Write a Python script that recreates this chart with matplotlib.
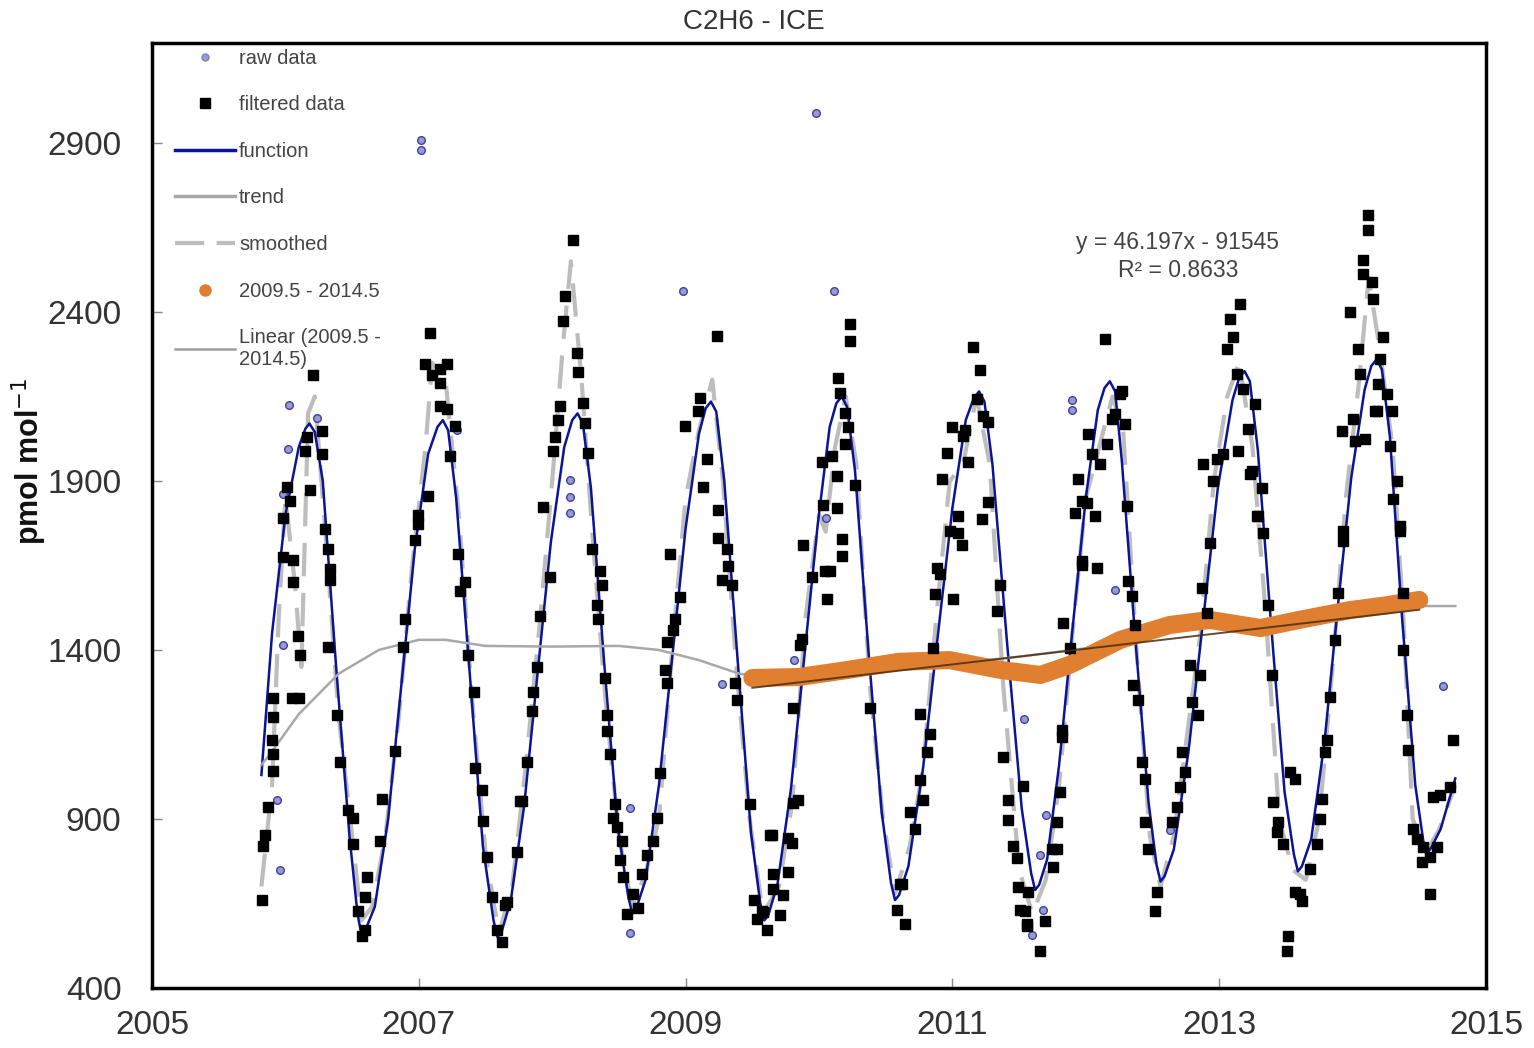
import numpy as np
import matplotlib
matplotlib.use("Agg")
import matplotlib.pyplot as plt
from matplotlib.lines import Line2D

plt.rcParams['font.family'] = ['Liberation Sans', 'DejaVu Sans']

# filtered data (black squares)
filt_x = [2005.822, 2005.835, 2005.847, 2005.872, 2005.910, 2005.910, 2005.897, 2005.91, 2005.91,
          2005.985, 2006.01, 2006.035, 2005.985, 2006.06, 2006.06, 2006.097, 2006.11, 2006.05, 2006.10,
          2006.147, 2006.16, 2006.185, 2006.21, 2006.272, 2006.272, 2006.297, 2006.322, 2006.335, 2006.335,
          2006.322, 2006.385, 2006.41, 2006.472, 2006.51, 2006.51, 2006.547, 2006.572, 2006.597, 2006.61,
          2006.597, 2006.71, 2006.722, 2006.822, 2006.884, 2006.897, 2006.972, 2006.997, 2007.072, 2006.997,
          2007.085, 2007.047, 2007.097, 2007.16, 2007.21, 2007.16, 2007.16, 2007.21, 2007.27, 2007.235,
          2007.297, 2007.347, 2007.31, 2007.372, 2007.41, 2007.422, 2007.472, 2007.484, 2007.51, 2007.546,
          2007.584, 2007.621, 2007.646, 2007.759, 2007.734,
          2007.659, 2007.771, 2007.809, 2007.846, 2007.859, 2007.884, 2007.909, 2007.984, 2007.934, 2008.009,
          2008.021, 2008.046, 2008.059, 2008.084, 2008.096, 2008.159, 2008.184, 2008.196, 2008.234, 2008.246,
          2008.271, 2008.296, 2008.359, 2008.371, 2008.334, 2008.346, 2008.396, 2008.409, 2008.409, 2008.434,
          2008.471, 2008.459, 2008.484, 2008.521, 2008.509, 2008.534, 2008.559, 2008.609, 2008.646, 2008.671,
          2008.709, 2008.759, 2008.784, 2008.809, 2008.859, 2008.846, 2008.859, 2008.909, 2008.921, 2008.959,
          2008.884, 2008.996, 2009.108, 2009.096, 2009.159, 2009.134, 2009.233, 2009.246, 2009.246, 2009.309,
          2009.321, 2009.271, 2009.346, 2009.371, 2009.384, 2009.483, 2009.509, 2009.571, 2009.608, 2009.533,
          2009.646, 2009.658,
          2009.583, 2009.658, 2009.708, 2009.733, 2009.770, 2009.770, 2009.633, 2009.795, 2009.808, 2009.845,
          2009.808, 2009.858, 2009.870, 2009.883, 2009.945, 2010.020, 2010.033, 2010.045, 2010.083, 2010.058,
          2010.095, 2010.133, 2010.133, 2010.170, 2010.170, 2010.145, 2010.158, 2010.195, 2010.220, 2010.195,
          2010.233, 2010.233, 2010.270, 2010.383, 2010.608, 2010.583, 2010.645, 2010.620, 2010.683, 2010.720,
          2010.758, 2010.783, 2010.808, 2010.833, 2010.758, 2010.858, 2010.870, 2010.883, 2010.908, 2010.920,
          2010.958, 2010.995, 2011.008, 2010.983, 2011.045, 2011.070, 2011.045, 2011.083, 2011.120, 2011.095,
          2011.157, 2011.208, 2011.182, 2011.232, 2011.270, 2011.220, 2011.270, 2011.357, 2011.333, 2011.382,
          2011.420, 2011.420, 2011.457, 2011.482, 2011.495, 2011.508, 2011.558, 2011.533, 2011.570,
          2011.544, 2011.557, 2011.657, 2011.694, 2011.757, 2011.744, 2011.782, 2011.782, 2011.807, 2011.819,
          2011.819, 2011.882, 2011.832, 2011.969, 2011.969, 2012.082, 2011.919, 2011.969, 2011.944, 2012.007,
          2012.069, 2012.107, 2012.044, 2012.019, 2012.157, 2012.144, 2012.219, 2012.194, 2012.257, 2012.269,
          2012.294, 2012.307, 2012.319, 2012.344, 2012.369, 2012.357, 2012.394, 2012.419, 2012.444, 2012.444,
          2012.469, 2012.532, 2012.519, 2012.644, 2012.682, 2012.707, 2012.744, 2012.719, 2012.794, 2012.782,
          2012.857, 2012.844, 2012.869, 2012.907, 2012.932, 2012.882, 2012.957, 2012.982, 2013.032, 2013.144,
          2013.057, 2013.082, 2013.107, 2013.157, 2013.132, 2013.182, 2013.219, 2013.232, 2013.282,
          2013.268, 2013.243, 2013.318, 2013.293, 2013.331, 2013.368, 2013.393, 2013.406, 2013.443, 2013.431,
          2013.481, 2013.531, 2013.568, 2013.568, 2013.618, 2013.606, 2013.518, 2013.506, 2013.681, 2013.731,
          2013.756, 2013.768, 2013.793, 2013.806, 2013.831, 2013.868, 2013.893, 2013.931, 2013.931, 2013.918,
          2013.981, 2014.043, 2014.056, 2014.006, 2014.018, 2014.093, 2014.168, 2014.181, 2014.206, 2014.231,
          2014.193, 2014.256, 2014.293, 2014.281, 2014.081, 2014.081, 2014.118, 2014.118, 2014.143, 2014.156,
          2014.331, 2014.306, 2014.356, 2014.356, 2014.381, 2014.381, 2014.406, 2014.418, 2014.456, 2014.481,
          2014.531, 2014.518, 2014.581, 2014.631, 2014.606, 2014.656, 2014.731, 2014.756, 2014.581]
filt_y = [661, 819, 852, 935, 1043, 1093, 1135, 1201, 1259,
          1791, 1882, 1840, 1674, 1666, 1600, 1442, 1384, 1259, 1259,
          1990, 2031, 1873, 2214, 2048, 1981, 1757, 1699, 1641, 1608,
          1409, 1209, 1068, 927, 902, 827, 628, 553, 570, 728,
          670, 836, 960, 1101, 1409, 1492, 1724, 1799, 1857, 1774,
          2338, 2247, 2214, 2230, 2247, 2189, 2123, 2114, 2064, 1973,
          1683, 1600, 1575, 1384, 1276, 1052, 985, 894, 786, 670,
          570, 537, 645, 952, 802,
          653, 952, 1068, 1218, 1276, 1350, 1500, 1616, 1824, 1990,
          2031, 2081, 2123, 2372, 2446, 2612, 2280, 2222, 2131, 2073,
          1982, 1699, 1633, 1591, 1533, 1492, 1317, 1209, 1160, 1093,
          944, 902, 877, 836, 778, 728, 620, 678, 636, 736,
          794, 836, 902, 1035, 1301, 1342, 1425, 1458, 1492, 1558,
          1683, 2064, 2147, 2106, 1965, 1882, 2330, 1815, 1732, 1699,
          1649, 1608, 1591, 1301, 1251, 944, 661, 628, 570, 603,
          852, 736,
          624, 692, 615, 675, 743, 845, 853, 828, 947, 955,
          1227, 1414, 1431, 1711, 1617, 1957, 1830, 1634, 1634, 1550,
          1974, 1915, 1821, 1728, 1677, 2204, 2161, 2102, 2059, 2008,
          2365, 2314, 1889, 1227, 709, 632, 590, 709, 921, 870,
          1014, 955, 1099, 1150, 1210, 1405, 1567, 1643, 1626, 1906,
          1983, 2059, 1550, 1753, 1745, 1711, 1796, 2034, 1957, 2051,
          2297, 2229, 2144, 2093, 2076, 1787, 1838, 1592, 1516, 1082,
          955, 896, 819, 785, 700, 632, 590, 997, 683,
          627, 582, 509, 597, 759, 811, 811, 892, 980, 1142,
          1164, 1407, 1480, 1664, 1650, 1642, 1804, 1841, 1907, 1834,
          1797, 1951, 1981, 2040, 2010, 2320, 2099, 2084, 2158, 2165,
          2069, 1826, 1605, 1561, 1473, 1296, 1252, 1068, 1017, 892,
          811, 685, 627, 892, 936, 995, 1039, 1098, 1245, 1355,
          1326, 1208, 1583, 1510, 1716, 1951, 1900, 1966, 1981, 1988,
          2290, 2378, 2327, 2423, 2216, 2172, 2054, 1922, 1797,
          2128, 1929, 1878, 1797, 1745, 1532, 1326, 950, 892, 862,
          825, 1039, 1017, 685, 656, 678, 553, 509, 752, 825,
          899, 958, 1098, 1135, 1260, 1429, 1569, 1753, 1723, 2047,
          2400, 2290, 2216, 2084, 2018, 2025, 2106, 2106, 2261, 2327,
          2187, 2158, 2106, 2003, 2555, 2511, 2688, 2643, 2489, 2437,
          1900, 1848, 1767, 1753, 1569, 1399, 1208, 1105, 870, 840,
          818, 774, 788, 818, 965, 972, 995, 1135, 678]

# raw data outliers (blue circles), filtered points are raw too
raw_x = [2005.94, 2005.96, 2005.98, 2005.98, 2006.02, 2006.03, 2006.24, 2007.02, 2007.02, 2007.29,
         2008.13, 2008.13, 2008.13, 2008.58, 2008.58, 2008.98, 2009.27, 2009.81, 2009.98, 2010.05,
         2010.11, 2011.54, 2011.60, 2011.66, 2011.68, 2011.70, 2011.90, 2011.90, 2012.22, 2012.63,
         2014.68]
raw_y = [956, 749, 1862, 1415, 1995, 2125, 2087, 2909, 2880, 2051,
         1903, 1853, 1805, 933, 563, 2462, 1300, 1370, 2990, 1790,
         2462, 1196, 557, 794, 631, 912, 2140, 2110, 1578, 867,
         1294]

# fitted function (blue)
func_x = [2005.82, 2005.90, 2006.00, 2006.10, 2006.15, 2006.18, 2006.22, 2006.28, 2006.38, 2006.48, 2006.54, 2006.57, 2006.60,
          2006.67, 2006.77, 2006.87, 2006.97, 2007.07, 2007.14, 2007.18, 2007.22, 2007.28, 2007.38, 2007.48, 2007.56, 2007.59, 2007.62,
          2007.69, 2007.79, 2007.89, 2007.99, 2008.09, 2008.15, 2008.19, 2008.23, 2008.29, 2008.39, 2008.49, 2008.57, 2008.60, 2008.63,
          2008.70, 2008.80, 2008.90, 2009.00, 2009.10, 2009.15, 2009.19, 2009.23, 2009.29, 2009.39, 2009.49, 2009.56, 2009.59, 2009.62,
          2009.69, 2009.79, 2009.89, 2009.99, 2010.08, 2010.13, 2010.17, 2010.21, 2010.27, 2010.37, 2010.47, 2010.54, 2010.57, 2010.60,
          2010.67, 2010.78, 2010.89, 2011.00, 2011.10, 2011.16, 2011.20, 2011.24, 2011.30, 2011.41, 2011.52, 2011.59, 2011.62, 2011.65,
          2011.71, 2011.80, 2011.90, 2012.00, 2012.09, 2012.14, 2012.18, 2012.22, 2012.27, 2012.37, 2012.47, 2012.53, 2012.56, 2012.59,
          2012.66, 2012.77, 2012.88, 2012.99, 2013.10, 2013.15, 2013.19, 2013.23, 2013.29, 2013.39, 2013.49, 2013.56, 2013.59, 2013.62,
          2013.69, 2013.79, 2013.89, 2013.99, 2014.09, 2014.14, 2014.18, 2014.22, 2014.28, 2014.37, 2014.47, 2014.53, 2014.56, 2014.59,
          2014.66, 2014.77]
func_y = [1030, 1450, 1800, 2000, 2055, 2070, 2045, 1900, 1350, 850, 620, 557, 572,
          640, 900, 1300, 1700, 1980, 2060, 2080, 2050, 1850, 1340, 820, 600, 550, 565,
          660, 940, 1330, 1720, 2000, 2080, 2100, 2070, 1880, 1360, 880, 670, 620, 635,
          720, 1000, 1380, 1760, 2040, 2115, 2135, 2105, 1900, 1370, 860, 650, 600, 615,
          710, 990, 1380, 1770, 2060, 2130, 2150, 2120, 1930, 1400, 920, 710, 660, 675,
          760, 1050, 1440, 1820, 2080, 2145, 2165, 2135, 1950, 1420, 930, 740, 690, 705,
          780, 1060, 1460, 1850, 2110, 2175, 2195, 2165, 1960, 1440, 950, 765, 715, 730,
          810, 1100, 1490, 1880, 2140, 2205, 2225, 2195, 1990, 1470, 980, 795, 745, 760,
          840, 1130, 1530, 1910, 2170, 2240, 2260, 2230, 2030, 1500, 1000, 835, 800, 815,
          870, 1020]

# smoothed (grey dashed)
smooth_x = [2005.82, 2005.90, 2005.95, 2006.00, 2006.07, 2006.12, 2006.17, 2006.22, 2006.30, 2006.40,
            2006.50, 2006.57, 2006.65, 2006.75, 2006.85, 2006.95, 2007.05, 2007.10, 2007.20, 2007.30,
            2007.40, 2007.50, 2007.60, 2007.70, 2007.80, 2007.90, 2008.00, 2008.08, 2008.14, 2008.22,
            2008.30, 2008.40, 2008.50, 2008.60, 2008.70, 2008.80, 2008.90, 2009.00, 2009.10, 2009.20,
            2009.28, 2009.38, 2009.48, 2009.58, 2009.70, 2009.80, 2009.90, 2010.00, 2010.05, 2010.12,
            2010.20, 2010.28, 2010.38, 2010.48, 2010.57, 2010.68, 2010.78, 2010.88, 2010.98, 2011.08,
            2011.18, 2011.28, 2011.38, 2011.50, 2011.60, 2011.70, 2011.80, 2011.90, 2012.00, 2012.10,
            2012.20, 2012.28, 2012.38, 2012.48, 2012.56, 2012.66, 2012.76, 2012.86, 2012.96, 2013.06,
            2013.15, 2013.25, 2013.35, 2013.45, 2013.55, 2013.65, 2013.75, 2013.85, 2013.95, 2014.05,
            2014.12, 2014.20, 2014.30, 2014.38, 2014.45, 2014.55, 2014.65, 2014.77]
smooth_y = [700, 1000, 1500, 1850, 1600, 1350, 2100, 2150, 1750, 1200,
            850, 600, 640, 850, 1200, 1650, 2000, 2250, 2200, 1800,
            1250, 800, 560, 700, 1050, 1450, 1900, 2300, 2550, 2200,
            1750, 1250, 850, 640, 740, 900, 1400, 1850, 2050, 2200,
            1900, 1350, 900, 620, 700, 950, 1500, 1800, 1750, 2000,
            2150, 1950, 1300, 900, 680, 820, 1050, 1500, 1900, 1950,
            2150, 1950, 1300, 750, 620, 720, 1000, 1450, 1850, 2000,
            2150, 2050, 1400, 850, 700, 850, 1150, 1450, 1900, 2150,
            2250, 2000, 1500, 900, 750, 720, 900, 1350, 1850, 2200,
            2500, 2300, 2000, 1500, 900, 800, 870, 1000]

# trend (grey)
trend_x = [2005.82, 2005.90, 2006.10, 2006.40, 2006.70, 2007.00, 2007.20, 2007.50, 2008.00, 2008.50,
           2008.80, 2009.10, 2009.40, 2009.60, 2010.00, 2010.50, 2011.00, 2011.50, 2012.00, 2012.50,
           2013.00, 2013.50, 2014.00, 2014.50, 2014.77]
trend_y = [1060, 1100, 1210, 1330, 1400, 1430, 1430, 1412, 1410, 1412,
           1400, 1370, 1330, 1320, 1335, 1345, 1360, 1380, 1405, 1450,
           1480, 1490, 1510, 1530, 1530]

# 2009.5 - 2014.5 (orange)
sel_x = [2009.50, 2009.85, 2010.20, 2010.60, 2010.98, 2011.36, 2011.66, 2011.88, 2012.26, 2012.63,
         2012.93, 2013.31, 2013.60, 2013.98, 2014.25, 2014.50]
sel_y = [1317, 1320, 1340, 1365, 1370, 1341, 1326, 1356, 1430, 1474,
         1489, 1465, 1489, 1518, 1532, 1548]

# linear fit of 2009.5 - 2014.5
lin_x = [2009.5, 2014.5]
lin_y = [1288, 1519]

fig = plt.figure(figsize=(15.34, 10.48), dpi=100)
ax = fig.add_axes([0.0991, 0.0573, 0.8696, 0.9017])

ax.plot(smooth_x, smooth_y, color='#bdbdbd', lw=3, dashes=(8, 4), zorder=2)
ax.plot(func_x, func_y, color='#0a1496', lw=1.8, zorder=3)
ax.plot(trend_x, trend_y, color='#a8a8a8', lw=1.8, zorder=3)
ax.plot(sel_x, sel_y, color='#e07f30', lw=13, solid_capstyle='round', zorder=4)
ax.plot(lin_x, lin_y, color='#4a2e12', lw=1.4, alpha=0.85, zorder=6)
ax.plot(raw_x + filt_x, raw_y + filt_y, 'o', ms=5.5, mfc='#9a9ad0', mec='#4040a0', mew=1.0, ls='none', zorder=4.5)
ax.plot(filt_x, filt_y, 's', ms=7, color='black', ls='none', zorder=5)

ax.text(2012.69, 2565, 'y = 46.197x - 91545\nR² = 0.8633', ha='center', va='center',
        fontsize=16.5, color='#444444', linespacing=1.3)

ax.set_xlim(2005, 2015)
ax.set_ylim(400, 3196)
ax.set_xticks([2005, 2007, 2009, 2011, 2013, 2015])
ax.set_yticks([400, 900, 1400, 1900, 2400, 2900])
ax.tick_params(direction='in', length=7, width=1, color='#888888', labelsize=24,
               labelcolor='#333333')
ax.tick_params(axis='y', pad=22)
ax.tick_params(axis='x', pad=16)
for s in ax.spines.values():
    s.set_linewidth(2.5)
    s.set_color('black')

fig.text(0.4915, 0.979, 'C2H6 - ICE', fontsize=20, color='#333333', ha='center', va='center')
ax.set_ylabel('pmol mol$^{-1}$', fontsize=22, fontweight='bold', color='#111111')
ax.yaxis.set_label_coords(-0.0775, 0.557)

handles = [
    Line2D([], [], marker='o', ls='none', ms=5, mfc='#9a9ad0', mec='#8080c0'),
    Line2D([], [], marker='s', ls='none', ms=7, color='black'),
    Line2D([], [], color='#0a1496', lw=2.5),
    Line2D([], [], color='#a8a8a8', lw=2.5),
    Line2D([], [], color='#bdbdbd', lw=3, dashes=(7, 3)),
    Line2D([], [], marker='o', ls='none', ms=8, color='#e07f30'),
    Line2D([], [], color='#a0a0a0', lw=1.8),
]
labels = ['raw data', 'filtered data', 'function', 'trend', 'smoothed', '2009.5 - 2014.5',
          'Linear (2009.5 -\n2014.5)']
leg = ax.legend(handles, labels, loc='upper left', bbox_to_anchor=(0.017, 0.994), frameon=False,
                fontsize=14.5, handlelength=3.0, handletextpad=0.2, labelspacing=1.37,
                borderaxespad=0, borderpad=0)
for t in leg.get_texts():
    t.set_color('#444444')

fig.savefig('out.png', dpi=100)
